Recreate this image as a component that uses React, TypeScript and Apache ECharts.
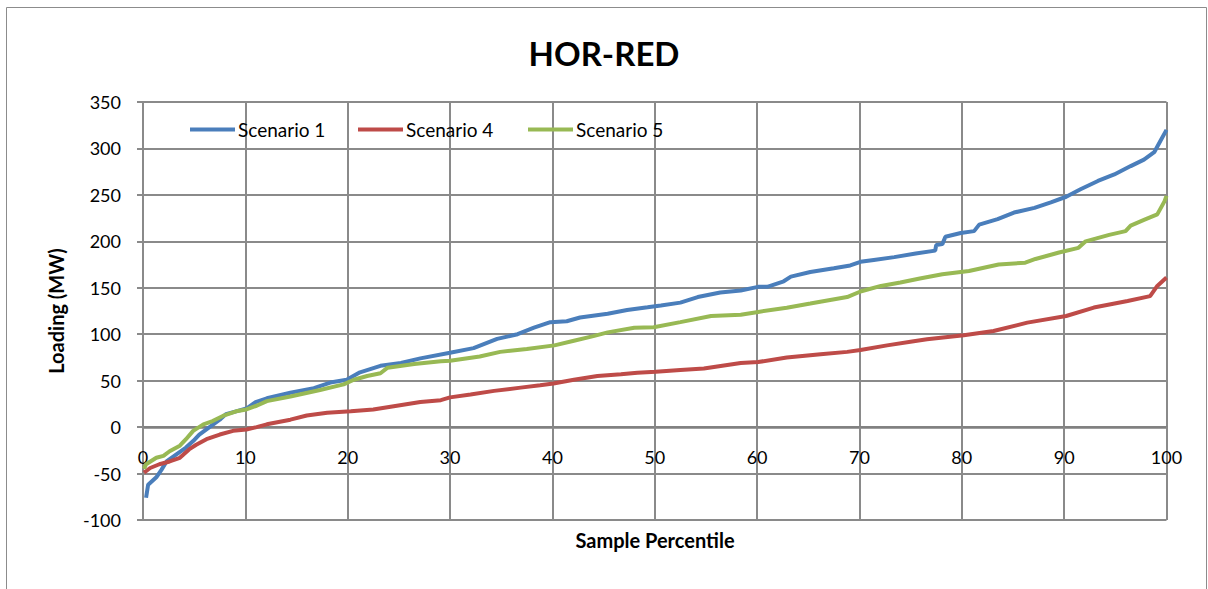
import React, { useEffect, useRef } from "react";
import * as echarts from "echarts";

const TITLE = "HOR-RED";
const X_NAME = "Sample Percentile";
const Y_NAME = "Loading (MW)";
const SERIES_NAMES = ["Scenario 1", "Scenario 4", "Scenario 5"];

const s1P = [0.3, 0.5, 1.3, 1.8, 2.3, 3.3, 4.2, 4.9, 5.5, 6.5, 7.5, 8.1, 9.1, 10.1, 11, 12.1, 14.4, 16.7, 18.3, 19.9, 21.2, 23.2, 25.2, 27.1, 30, 32.3, 34.6, 36.6, 38.2, 39.8, 41.4, 42.7, 45.4, 47.3, 49.3, 50.6, 52.5, 54.2, 56.4, 58.4, 60.1, 61, 62.6, 63.3, 65.2, 67.5, 69.1, 70.1, 71.4, 73.4, 75.5, 77.4, 77.5, 78.1, 78.4, 79.9, 81.2, 81.7, 83.5, 85.1, 87.1, 88.7, 90.2, 91.6, 93.3, 94.9, 96.5, 97.8, 98.8, 99.4, 100];
const s1V = [-76, -62, -54, -46, -37, -29, -22, -15, -8, 0, 8, 14, 17, 20, 27, 31, 37, 42, 48, 51, 59, 66, 69, 74, 80, 85, 95, 100, 107, 113, 114, 118, 122, 126, 129, 131, 134, 140, 145, 147, 151, 151, 157, 162, 167, 171, 174, 178, 180, 183, 187, 190, 196, 197, 205, 209, 211, 218, 224, 231, 236, 242, 248, 256, 265, 272, 281, 288, 296, 308, 320];

const s4P = [0.1, 0.7, 1.6, 2.6, 3.6, 4.5, 5.2, 6.2, 7.5, 8.8, 10.1, 11.1, 12.1, 14.4, 16, 18, 20.3, 22.5, 24.5, 27.1, 29.1, 30, 32, 34.3, 36.9, 38.8, 40.1, 42.1, 44.4, 46.7, 48.3, 50.1, 52.5, 54.8, 58.4, 60.1, 62.9, 66.2, 68.8, 70.1, 72.7, 75.3, 76.6, 80.2, 83.1, 86.4, 90.2, 92.9, 96.2, 98.4, 99.1, 100];
const s4V = [-49, -44, -40, -37, -33, -24, -19, -13, -8, -4, -2.5, 0, 3, 8, 12.5, 15.5, 17, 19, 22.5, 27, 29, 32, 35, 39, 42.5, 45, 47, 51, 55, 57, 58.6, 59.5, 61.5, 63, 69, 70, 75, 78.5, 81, 83, 88, 92.5, 94.5, 99, 103.4, 112.5, 119.6, 128.7, 135.8, 141, 152, 161];

const s5P = [0.1, 0.3, 1.3, 2, 2.6, 3.6, 4.2, 4.9, 5.9, 6.8, 7.8, 9.1, 10.1, 11.1, 12.1, 14.4, 17.3, 19.6, 20.6, 21.9, 23.2, 23.9, 26.5, 29.1, 30, 32.9, 34.9, 37.5, 40.2, 42.1, 44, 45.4, 48, 49.9, 52.5, 55.5, 58.4, 60.1, 62.9, 65.2, 68.8, 70.1, 72.1, 74, 75.9, 78.1, 80.7, 83.6, 86.2, 87.2, 89.5, 91.4, 92.1, 94.4, 96, 96.5, 97.8, 99.1, 99.8, 100];
const s5V = [-45, -40, -33, -31, -26, -20, -13, -4, 3, 6.5, 12, 17, 19, 23, 28, 33, 40, 46, 51, 55, 58, 64, 68, 71, 71.5, 76, 81, 84, 88, 93, 98, 102, 107, 107.5, 113, 119.6, 121, 124, 128.6, 133, 140, 146, 152, 155.6, 160, 164.5, 168, 175, 177, 181, 188, 193, 200, 207, 211, 217, 223, 229, 243, 249];

const COLORS = ["#4A7EBB", "#BE4B48", "#98B954"];
const FONT = "Lato, 'Open Sans', sans-serif";
const GRID_COLOR = "#8a8a8a";

const zip = (p: number[], v: number[]) => p.map((x, i) => [x, v[i]]);

export default function App() {
  const ref = useRef<HTMLDivElement>(null);
  useEffect(() => {
    if (!ref.current) return;
    const chart = echarts.init(ref.current, undefined, { renderer: "svg" });
    const seriesData = [zip(s1P, s1V), zip(s4P, s4V), zip(s5P, s5V)];
    const legendLefts = [190, 358, 528];
    const gridTop = 102;
    const gridBottom = 69;
    const plotH = 589 - gridTop - gridBottom;
    const yMin = -100;
    const yMax = 350;
    // move x axis (line, ticks, labels) up onto the y = 0 line
    const zeroOffset = -(plotH * (0 - yMin)) / (yMax - yMin);
    chart.setOption({
      animation: false,
      backgroundColor: "#ffffff",
      textStyle: { fontFamily: FONT },
      title: {
        text: TITLE,
        left: "center",
        top: 31,
        textStyle: { fontFamily: FONT, fontSize: 33, fontWeight: "bold", color: "#000" },
      },
      graphic: [
        {
          type: "rect",
          shape: { x: 6.5, y: 7.5, width: 1200, height: 620 },
          style: { fill: "none", stroke: "#8c8c8c", lineWidth: 1 },
          silent: true,
          z: -10,
        },
        {
          type: "text",
          x: 655,
          y: 540,
          style: {
            text: X_NAME,
            fontFamily: FONT,
            fontSize: 20,
            fontWeight: "bold",
            fill: "#000",
            align: "center",
            verticalAlign: "middle",
          },
        },
      ],
      legend: SERIES_NAMES.map((n, i) => ({
        data: [n],
        left: legendLefts[i],
        top: 120,
        padding: 0,
        icon: "rect",
        itemWidth: 45,
        itemHeight: 4,
        itemGap: 0,
        textStyle: { fontFamily: FONT, fontSize: 19, color: "#000", padding: [0, 0, 0, -2] },
      })),
      grid: {
        left: 143,
        right: 41.5,
        top: gridTop,
        bottom: gridBottom,
        containLabel: false,
        outerBoundsMode: "none",
      },
      xAxis: {
        type: "value",
        min: 0,
        max: 100,
        interval: 10,
        position: "bottom",
        offset: zeroOffset,
        axisLine: { show: true, onZero: false, lineStyle: { color: "#808080", width: 2.5 } },
        axisTick: { show: true, length: 6, lineStyle: { color: GRID_COLOR, width: 2 } },
        axisLabel: { margin: 21, fontSize: 18, color: "#000", fontFamily: FONT },
        splitLine: { show: true, lineStyle: { color: GRID_COLOR, width: 2 } },
      },
      yAxis: {
        type: "value",
        min: yMin,
        max: yMax,
        interval: 50,
        name: Y_NAME,
        nameLocation: "middle",
        nameGap: 77,
        nameTextStyle: { fontFamily: FONT, fontSize: 20, fontWeight: "bold", color: "#000" },
        axisLine: { show: true, onZero: false, lineStyle: { color: GRID_COLOR, width: 2 } },
        axisTick: { show: true, length: 6, lineStyle: { color: GRID_COLOR, width: 2 } },
        axisLabel: { margin: 22, fontSize: 18, color: "#000", fontFamily: FONT },
        splitLine: { show: true, lineStyle: { color: GRID_COLOR, width: 2 } },
      },
      series: SERIES_NAMES.map((n, i) => ({
        name: n,
        type: "line",
        data: seriesData[i],
        symbol: "none",
        showSymbol: false,
        color: COLORS[i],
        itemStyle: { color: COLORS[i] },
        lineStyle: { color: COLORS[i], width: 4 },
        z: 2 + i,
      })),
    });
    return () => chart.dispose();
  }, []);
  return (
    <div
      ref={ref}
      style={{ position: "absolute", left: 0, top: 0, width: 1208, height: 589 }}
    />
  );
}
